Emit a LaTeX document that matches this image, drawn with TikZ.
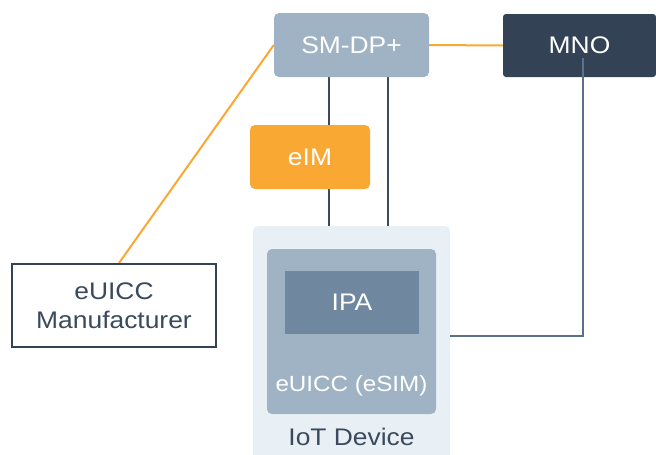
\documentclass[tikz,border=0pt]{standalone}
\usepackage{fontspec}
\setmainfont{Liberation Sans}[FakeStretch=1.1]
\usetikzlibrary{backgrounds}
\definecolor{boxgray}{HTML}{9FB3C4}
\definecolor{boxdark}{HTML}{334355}
\definecolor{boxorange}{HTML}{F9A833}
\definecolor{devbg}{HTML}{E8F0F6}
\definecolor{ipagray}{HTML}{6F889F}
\definecolor{textdark}{HTML}{3A4A5C}
\definecolor{linkblue}{HTML}{5B7089}
\tikzset{
  box/.style={rectangle, rounded corners=5pt, inner sep=0pt, text=white},
  orangelink/.style={draw=boxorange, line width=2pt},
  darklink/.style={draw=textdark, line width=2.5pt},
}
\begin{document}
\begin{tikzpicture}[x=1pt,y=-1pt,font=\fontsize{24}{29}\selectfont]
		\clip (0,0) rectangle (656,455);
		% boxes
		\node[box, fill=boxgray, minimum width=155pt, minimum height=64pt] (smdp) at (351.5,45) {SM-DP+};
		\node[box, fill=boxdark, rounded corners=3pt, minimum width=153pt, minimum height=63pt] (mno) at (579.5,45.5) {MNO};
		\node[box, fill=boxorange, minimum width=120pt, minimum height=64pt] (eim) at (310,157) {eIM};
		\node[rectangle, draw=boxdark, line width=2pt, fill=white, text=textdark, align=center, minimum width=204pt, minimum height=83pt] (mfr) at (114,305.5) {eUICC\\Manufacturer};
		
		\node[box, fill=devbg, minimum width=197pt, minimum height=244pt] (iot) at (351.5,348) {};
		\node[text=textdark] (iotlbl) at (351.5,437) {IoT Device};
		\node[box, fill=boxgray, minimum width=169pt, minimum height=165pt] (euicc) at (351.5,331.5) {};
		\node[text=white, font=\fontsize{22}{26}\selectfont] (euicclbl) at (351.5,386) {eUICC (eSIM)};
		\node[rectangle, fill=ipagray, text=white, minimum width=134pt, minimum height=63pt] (ipa) at (352,302.5) {IPA};
		
		% connectors
		\begin{scope}[on background layer]
		\draw[darklink] ([xshift=-22.5pt]smdp.south) -- ([xshift=-22.5pt]smdp.south |- iot.north);
		\draw[darklink] ([xshift=36.5pt]smdp.south) -- ([xshift=36.5pt]smdp.south |- iot.north);
		\draw[orangelink] (smdp.east) -- (mno.west);
		\draw[orangelink] (smdp.west) -- ([xshift=5pt]mfr.north);
		\end{scope}
		\coordinate (bend) at (583,336);
		\draw[linkblue, line width=2.5pt] ([xshift=3.5pt,yshift=-12pt]mno.center) -- (bend) -- (bend -| iot.east);
	\end{tikzpicture}
\end{document}
